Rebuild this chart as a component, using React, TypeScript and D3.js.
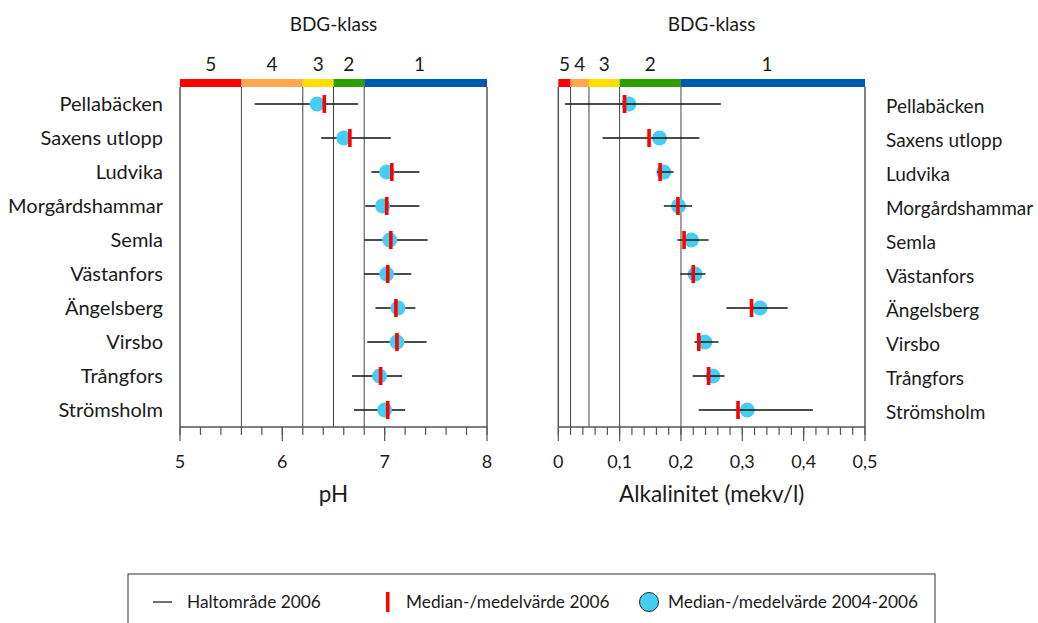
import React from "react";
import * as d3 from "d3";

const sites = ["Pellabäcken", "Saxens utlopp", "Ludvika", "Morgårdshammar", "Semla", "Västanfors", "Ängelsberg", "Virsbo", "Trångfors", "Strömsholm"];

// pH
const phMin = [5.73, 6.38, 6.87, 6.81, 6.80, 6.80, 6.91, 6.83, 6.68, 6.70];
const phMax = [6.74, 7.06, 7.34, 7.34, 7.42, 7.26, 7.30, 7.41, 7.17, 7.20];
const phMed2006 = [6.41, 6.66, 7.07, 7.02, 7.06, 7.03, 7.11, 7.12, 6.96, 7.03];
const phMed0406 = [6.34, 6.60, 7.02, 6.98, 7.05, 7.02, 7.13, 7.12, 6.95, 7.00];

// Alkalinitet
const alkMin = [0.011, 0.072, 0.161, 0.172, 0.194, 0.199, 0.274, 0.222, 0.219, 0.229];
const alkMax = [0.265, 0.230, 0.188, 0.218, 0.245, 0.240, 0.374, 0.261, 0.271, 0.415];
const alkMed2006 = [0.108, 0.148, 0.166, 0.195, 0.205, 0.220, 0.315, 0.229, 0.245, 0.293];
const alkMed0406 = [0.115, 0.165, 0.172, 0.196, 0.217, 0.223, 0.329, 0.239, 0.252, 0.308];

// BDG class boundaries
const classNames = ["5", "4", "3", "2", "1"];
const classColors = ["#ff0000", "#ffa84d", "#ffdd00", "#2e9e00", "#005aab"];
const phBounds = [5, 5.6, 6.2, 6.5, 6.8, 8];
const alkBounds = [0, 0.02, 0.05, 0.1, 0.2, 0.5];

const phTicks = [5, 6, 7, 8];
const phTickLabels = ["5", "6", "7", "8"];
const alkTicks = [0, 0.1, 0.2, 0.3, 0.4, 0.5];
const alkTickLabels = ["0", "0,1", "0,2", "0,3", "0,4", "0,5"];

const legendLabels = ["Haltområde 2006", "Median-/medelvärde 2006", "Median-/medelvärde 2004-2006"];

const FONT = "Lato, 'Open Sans', sans-serif";
const TXT = "#1a1a1a";

const plotTop = 87;
const plotBottom = 427;

const y = d3.scaleBand<string>().domain(sites).range([plotTop, plotBottom]);

type PanelProps = {
  x: d3.ScaleLinear<number, number>;
  bounds: number[];
  mins: number[];
  maxs: number[];
  med: number[];
  med3: number[];
  ticks: number[];
  tickLabels: string[];
  minorStep: number;
  title: string;
  lineOnTop: boolean;
};

function Panel({ x, bounds, mins, maxs, med, med3, ticks, tickLabels, minorStep, title, lineOnTop }: PanelProps) {
  const [d0, d1] = x.domain();
  const n = Math.round((d1 - d0) / minorStep);
  const minor = d3.range(n + 1).map((i) => d0 + i * minorStep);
  const left = x(d0);
  const right = x(d1);
  const cx = (left + right) / 2;
  return (
    <g>
      <text x={cx} y={31} textAnchor="middle" fontFamily={FONT} fontSize={19} fill={TXT}>BDG-klass</text>
      {classNames.map((c, i) => (
        <g key={c}>
          <rect x={x(bounds[i])} y={79} width={x(bounds[i + 1]) - x(bounds[i])} height={8} fill={classColors[i]} />
          <text x={(x(bounds[i]) + x(bounds[i + 1])) / 2 - (i === 4 ? 6 : 0)} y={71} textAnchor="middle" fontFamily={FONT} fontSize={19} fill={TXT}>{c}</text>
        </g>
      ))}
      {bounds.slice(1, -1).map((b) => (
        <line key={b} x1={x(b)} x2={x(b)} y1={plotTop} y2={plotBottom} stroke="#444" strokeWidth={1} />
      ))}
      <line x1={left} x2={left} y1={plotTop} y2={plotBottom} stroke="#555" strokeWidth={1.5} />
      <line x1={right} x2={right} y1={plotTop} y2={plotBottom} stroke="#555" strokeWidth={1.5} />
      <line x1={left} x2={right} y1={plotBottom} y2={plotBottom} stroke="#555" strokeWidth={1.5} />
      {minor.map((t, i) => (
        <line key={i} x1={x(t)} x2={x(t)} y1={plotBottom} y2={plotBottom + 8} stroke="#555" strokeWidth={1.2} />
      ))}
      {ticks.map((t, i) => (
        <g key={i}>
          <line x1={x(t)} x2={x(t)} y1={plotBottom} y2={plotBottom + 14} stroke="#555" strokeWidth={1.2} />
          <text x={x(t)} y={468} textAnchor="middle" fontFamily={FONT} fontSize={18} fill={TXT}>{tickLabels[i]}</text>
        </g>
      ))}
      <text x={cx} y={502} textAnchor="middle" fontFamily={FONT} fontSize={22.5} fill={TXT}>{title}</text>
      {sites.map((s, i) => {
        const yc = (y(s) as number) + y.bandwidth() / 2;
        const ln = <line x1={x(mins[i])} x2={x(maxs[i])} y1={yc} y2={yc} stroke="#111" strokeWidth={1.4} />;
        return (
          <g key={s}>
            {!lineOnTop && ln}
            <circle cx={x(med3[i])} cy={yc} r={7.5} fill="#45cdf2" />
            {lineOnTop && ln}
            <rect x={x(med[i]) - 1.8} y={yc - 9} width={3.6} height={18} fill="#ff0000" />
          </g>
        );
      })}
    </g>
  );
}

export default function App() {
  const xPh = d3.scaleLinear().domain([5, 8]).range([180, 487]);
  const xAlk = d3.scaleLinear().domain([0, 0.5]).range([558.3, 865]);
  return (
    <svg width={1038} height={623} style={{ position: "fixed", left: 0, top: 0, background: "#fff" }}>
      <rect width={1038} height={623} fill="#fff" />
      {sites.map((s) => {
        const yc = (y(s) as number) + y.bandwidth() / 2 + 7;
        return (
          <g key={s}>
            <text x={163} y={yc} textAnchor="end" fontFamily={FONT} fontSize={20} fill={TXT}>{s}</text>
            <text x={886} y={yc + 2} textAnchor="start" fontFamily={FONT} fontSize={19} fill={TXT}>{s}</text>
          </g>
        );
      })}
      <Panel x={xPh} bounds={phBounds} mins={phMin} maxs={phMax} med={phMed2006} med3={phMed0406}
        ticks={phTicks} tickLabels={phTickLabels} minorStep={0.2} title="pH" lineOnTop={false} />
      <Panel x={xAlk} bounds={alkBounds} mins={alkMin} maxs={alkMax} med={alkMed2006} med3={alkMed0406}
        ticks={alkTicks} tickLabels={alkTickLabels} minorStep={0.02} title="Alkalinitet (mekv/l)" lineOnTop={true} />
      <g>
        <rect x={128} y={574} width={807} height={60} fill="none" stroke="#333" strokeWidth={1} />
        <line x1={153} x2={172} y1={602} y2={602} stroke="#111" strokeWidth={1.2} />
        <text x={187} y={608} fontFamily={FONT} fontSize={17.3} fill={TXT}>{legendLabels[0]}</text>
        <rect x={386} y={592} width={3.5} height={20} fill="#ff0000" />
        <text x={406} y={608} fontFamily={FONT} fontSize={17.3} fill={TXT}>{legendLabels[1]}</text>
        <circle cx={649} cy={602} r={9.5} fill="#45cdf2" stroke="#222" strokeWidth={1} />
        <text x={668} y={608} fontFamily={FONT} fontSize={17.3} fill={TXT}>{legendLabels[2]}</text>
      </g>
    </svg>
  );
}
